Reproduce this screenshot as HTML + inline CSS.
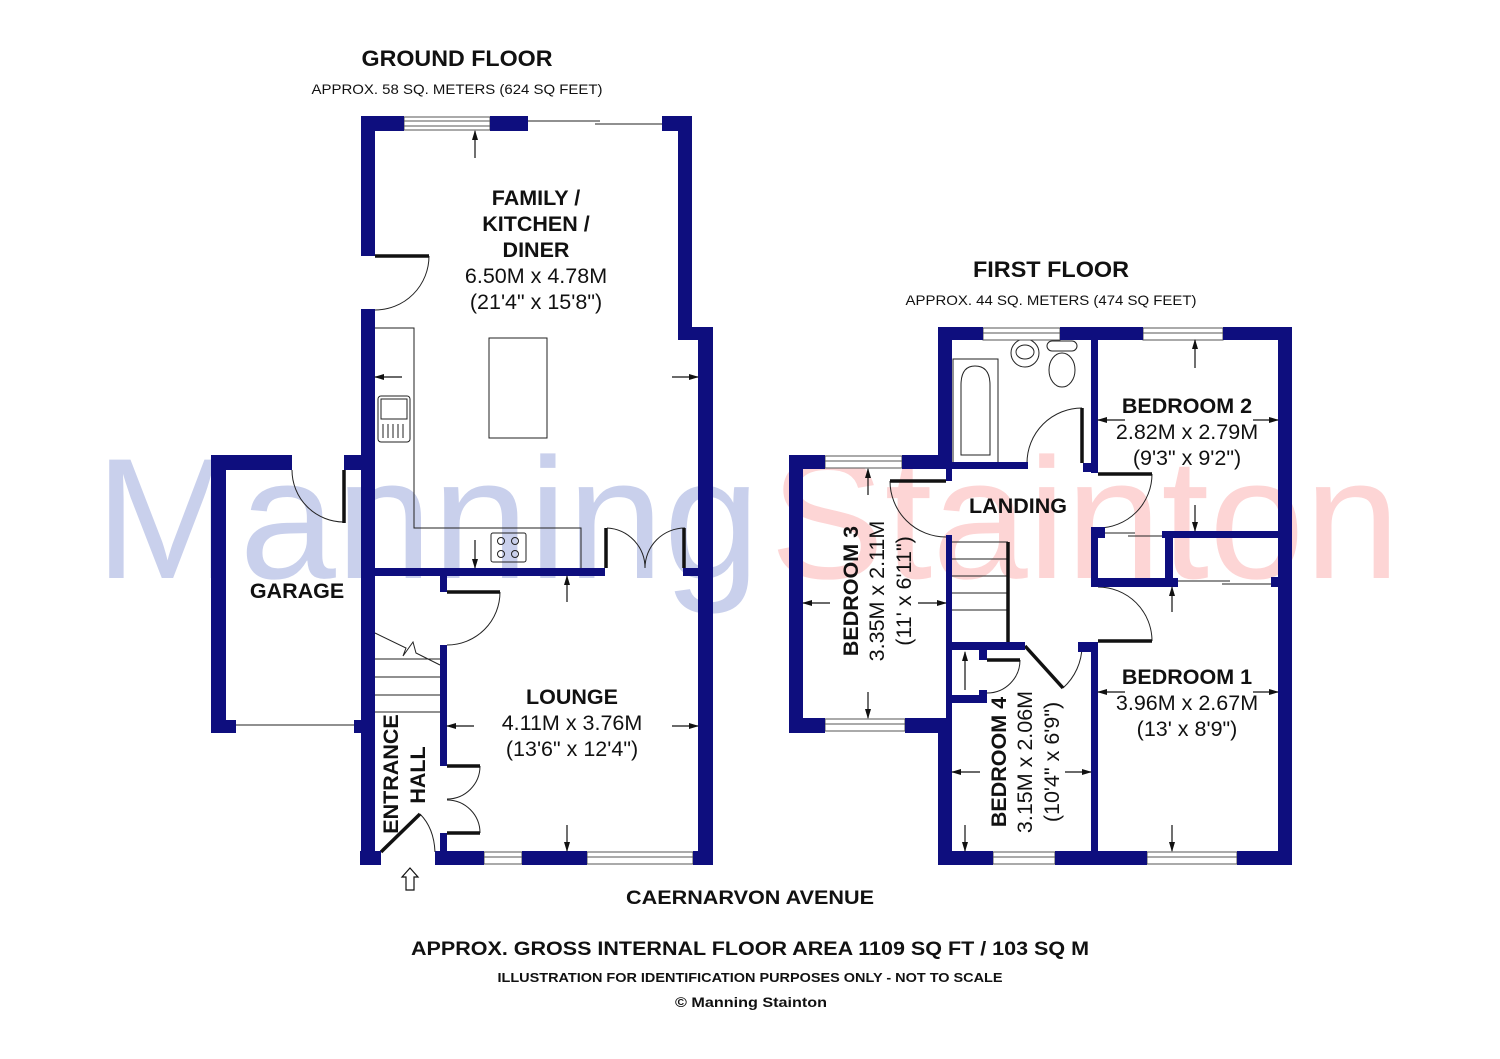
<!DOCTYPE html>
<html><head><meta charset="utf-8"><style>
html,body{margin:0;padding:0;background:#fff;}
svg{display:block;}
text{font-family:"Liberation Sans",Arial,sans-serif;fill:#111;}
.b{font-weight:bold;}
</style></head><body>
<svg width="1500" height="1059" viewBox="0 0 1500 1059" xmlns="http://www.w3.org/2000/svg">
<defs>
<marker id="ah" markerWidth="10" markerHeight="8" refX="9" refY="4" orient="auto" markerUnits="userSpaceOnUse">
<path d="M0,1 L10,4 L0,7 z" fill="#111"/>
</marker>
</defs>
<rect width="1500" height="1059" fill="#fff"/>
<!-- watermark -->
<text x="95" y="578" font-size="172" style="fill:#c9d0ec" textLength="665" lengthAdjust="spacingAndGlyphs">Manning</text>
<text x="770" y="578" font-size="172" style="fill:#fdd5d5" textLength="630" lengthAdjust="spacingAndGlyphs">Stainton</text>

<!-- headings -->
<text class="b" x="457" y="66" font-size="22" text-anchor="middle" textLength="191" lengthAdjust="spacingAndGlyphs">GROUND FLOOR</text>
<text x="457" y="94" font-size="14" text-anchor="middle" textLength="291" lengthAdjust="spacingAndGlyphs">APPROX. 58 SQ. METERS (624 SQ FEET)</text>
<text class="b" x="1051" y="277" font-size="22" text-anchor="middle" textLength="156" lengthAdjust="spacingAndGlyphs">FIRST FLOOR</text>
<text x="1051" y="305" font-size="14" text-anchor="middle" textLength="291" lengthAdjust="spacingAndGlyphs">APPROX. 44 SQ. METERS (474 SQ FEET)</text>
<text class="b" x="750" y="904" font-size="19" text-anchor="middle" textLength="248" lengthAdjust="spacingAndGlyphs">CAERNARVON AVENUE</text>
<text class="b" x="750" y="955" font-size="19" text-anchor="middle" textLength="678" lengthAdjust="spacingAndGlyphs">APPROX. GROSS INTERNAL FLOOR AREA 1109 SQ FT / 103 SQ M</text>
<text class="b" x="750" y="982" font-size="13" text-anchor="middle" textLength="505" lengthAdjust="spacingAndGlyphs">ILLUSTRATION FOR IDENTIFICATION PURPOSES ONLY - NOT TO SCALE</text>
<text class="b" x="751" y="1007" font-size="14" text-anchor="middle" textLength="152" lengthAdjust="spacingAndGlyphs">© Manning Stainton</text>

<g fill="none" stroke="#222" stroke-width="1">
<polyline points="375,328 414,328 414,528 581,528 581,568"/>
<rect x="489" y="338" width="58" height="100"/>
<rect x="378" y="396" width="32" height="46" rx="3"/>
<rect x="381" y="399" width="26" height="20"/>
<line x1="383" y1="424" x2="383" y2="438"/><line x1="388" y1="424" x2="388" y2="438"/><line x1="393" y1="424" x2="393" y2="438"/><line x1="398" y1="424" x2="398" y2="438"/><line x1="403" y1="424" x2="403" y2="438"/>
<rect x="491" y="533" width="35" height="29" rx="2"/>
<circle cx="501" cy="541" r="3.5"/><circle cx="515" cy="541" r="3.5"/><circle cx="501" cy="554" r="3.5"/><circle cx="515" cy="554" r="3.5"/>
<path d="M429,256 A54,54 0 0 1 375,310"/>
<path d="M292,470 A52,52 0 0 0 344,522"/>
<path d="M607,528 A40,40 0 0 1 645,568"/>
<path d="M685,528 A40,40 0 0 0 645,568"/>
<path d="M500,592 A53,53 0 0 1 447,645"/>
<path d="M480,766 A33,33 0 0 1 447,799"/>
<path d="M480,833 A33,33 0 0 0 447,800"/>
<path d="M420,814 Q434,828 435,852"/>
<line x1="236" y1="725" x2="354" y2="725"/>
<line x1="528" y1="121" x2="600" y2="121"/><line x1="595" y1="124" x2="662" y2="124"/>
<line x1="375" y1="659" x2="440" y2="659"/><line x1="375" y1="677" x2="440" y2="677"/><line x1="375" y1="695" x2="440" y2="695"/><line x1="375" y1="712" x2="440" y2="712"/>
<polyline points="375,633 406,648 403,656 413,642 416,653 440,665"/>
<path d="M890,481 A56,56 0 0 0 946,537"/>
<path d="M1082,408 A55,55 0 0 0 1027,463"/>
<path d="M1152,474 A54,54 0 0 1 1098,528"/>
<path d="M1098,587 A54,54 0 0 1 1152,641"/>
<path d="M1063,688 A57,57 0 0 0 1082,646"/>
<path d="M1020,660 A33,33 0 0 1 987,693"/>
<line x1="952" y1="542" x2="1008" y2="542"/><line x1="952" y1="559" x2="1008" y2="559"/><line x1="952" y1="576" x2="1008" y2="576"/><line x1="952" y1="593" x2="1008" y2="593"/><line x1="952" y1="610" x2="1008" y2="610"/>
<rect x="953" y="359" width="45" height="104"/>
<path d="M961,455 L961,385 Q961,366 975,366 Q990,366 990,385 L990,455 Z"/>
<circle cx="1025" cy="353" r="14"/><ellipse cx="1025" cy="352" rx="9" ry="7"/>
<rect x="1047" y="341" width="30" height="10" rx="5"/>
<ellipse cx="1062" cy="370" rx="13" ry="17"/>
<line x1="1105" y1="533" x2="1135" y2="533"/><line x1="1128" y1="536" x2="1162" y2="536"/>
<line x1="1178" y1="581" x2="1230" y2="581"/><line x1="1222" y1="584" x2="1271" y2="584"/>
</g>
<g stroke="#111" stroke-width="3.5">
<line x1="375" y1="256" x2="429" y2="256"/>
<line x1="344" y1="470" x2="344" y2="523"/>
<line x1="447" y1="592" x2="500" y2="592"/>
<line x1="447" y1="766" x2="480" y2="766"/>
<line x1="447" y1="833" x2="480" y2="833"/>
<line x1="381" y1="852" x2="420" y2="814"/>
<line x1="606" y1="528" x2="606" y2="568"/>
<line x1="684" y1="528" x2="684" y2="568"/>
<line x1="890" y1="481" x2="946" y2="481"/>
<line x1="1082" y1="408" x2="1082" y2="463"/>
<line x1="1098" y1="474" x2="1152" y2="474"/>
<line x1="1098" y1="641" x2="1152" y2="641"/>
<line x1="1025" y1="646" x2="1063" y2="688"/>
<line x1="987" y1="660" x2="1020" y2="660"/>
<line x1="1008" y1="542" x2="1008" y2="642"/>
</g>

<g fill="#fff" stroke="#555" stroke-width="1">
<rect x="404" y="117" width="86" height="13"/><line x1="404" y1="121" x2="490" y2="121"/><line x1="404" y1="126" x2="490" y2="126"/>
<rect x="484" y="852" width="38" height="12"/><line x1="484" y1="857" x2="522" y2="857"/>
<rect x="587" y="852" width="106" height="12"/><line x1="587" y1="857" x2="693" y2="857"/>
<rect x="983" y="328" width="77" height="12"/><line x1="983" y1="333" x2="1060" y2="333"/>
<rect x="1143" y="328" width="80" height="12"/><line x1="1143" y1="333" x2="1223" y2="333"/>
<rect x="825" y="456" width="77" height="12"/><line x1="825" y1="461" x2="902" y2="461"/>
<rect x="825" y="719" width="80" height="12"/><line x1="825" y1="724" x2="905" y2="724"/>
<rect x="993" y="852" width="62" height="12"/><line x1="993" y1="857" x2="1055" y2="857"/>
<rect x="1147" y="852" width="90" height="12"/><line x1="1147" y1="857" x2="1237" y2="857"/>
</g>

<g fill="#0e0e7e">
<rect x="361" y="116" width="43" height="15"/>
<rect x="490" y="116" width="38" height="15"/>
<rect x="662" y="116" width="30" height="15"/>
<rect x="678" y="116" width="14" height="224"/>
<rect x="678" y="327" width="35" height="13"/>
<rect x="698" y="327" width="15" height="538"/>
<rect x="361" y="116" width="14" height="140"/>
<rect x="361" y="309" width="14" height="556"/>
<rect x="211" y="455" width="81" height="15"/>
<rect x="344" y="455" width="24" height="15"/>
<rect x="211" y="455" width="15" height="278"/>
<rect x="211" y="720" width="25" height="13"/>
<rect x="354" y="720" width="14" height="13"/>
<rect x="375" y="568" width="230" height="8"/>
<rect x="683" y="568" width="15" height="8"/>
<rect x="440" y="576" width="7" height="16"/>
<rect x="440" y="645" width="7" height="121"/>
<rect x="440" y="833" width="7" height="32"/>
<rect x="435" y="851" width="49" height="14"/>
<rect x="522" y="851" width="65" height="14"/>
<rect x="693" y="851" width="20" height="14"/>
<rect x="360" y="851" width="21" height="14"/>
<rect x="938" y="327" width="45" height="13"/>
<rect x="1060" y="327" width="83" height="13"/>
<rect x="1223" y="327" width="69" height="13"/>
<rect x="1278" y="327" width="14" height="538"/>
<rect x="938" y="851" width="55" height="14"/>
<rect x="1055" y="851" width="92" height="14"/>
<rect x="1237" y="851" width="55" height="14"/>
<rect x="938" y="327" width="14" height="141"/>
<rect x="938" y="462" width="90" height="7"/>
<rect x="789" y="455" width="36" height="14"/>
<rect x="902" y="455" width="50" height="14"/>
<rect x="946" y="455" width="6" height="26"/>
<rect x="789" y="455" width="14" height="278"/>
<rect x="789" y="718" width="36" height="15"/>
<rect x="905" y="718" width="47" height="15"/>
<rect x="946" y="535" width="6" height="198"/>
<rect x="938" y="718" width="14" height="147"/>
<rect x="952" y="642" width="73" height="8"/>
<rect x="979" y="650" width="8" height="10"/>
<rect x="952" y="695" width="35" height="8"/>
<rect x="979" y="690" width="8" height="13"/>
<rect x="1078" y="642" width="20" height="10"/>
<rect x="1091" y="642" width="7" height="223"/>
<rect x="1091" y="340" width="7" height="133"/>
<rect x="1083" y="463" width="15" height="9"/>
<rect x="1091" y="527" width="7" height="60"/>
<rect x="1091" y="527" width="14" height="11"/>
<rect x="1162" y="531" width="116" height="7"/>
<rect x="1165" y="531" width="8" height="56"/>
<rect x="1091" y="578" width="87" height="9"/>
<rect x="1271" y="577" width="7" height="10"/>
</g>

<g stroke="#111" stroke-width="1.2" marker-end="url(#ah)">
<line x1="475" y1="158" x2="475" y2="131"/>
<line x1="402" y1="377" x2="375" y2="377"/>
<line x1="672" y1="377" x2="698" y2="377"/>
<line x1="475" y1="540" x2="475" y2="568"/>
<line x1="567" y1="602" x2="567" y2="576"/>
<line x1="474" y1="726" x2="447" y2="726"/>
<line x1="672" y1="726" x2="698" y2="726"/>
<line x1="567" y1="825" x2="567" y2="851"/>
<line x1="868" y1="495" x2="868" y2="469"/>
<line x1="868" y1="692" x2="868" y2="718"/>
<line x1="830" y1="603" x2="803" y2="603"/>
<line x1="918" y1="603" x2="946" y2="603"/>
<line x1="1195" y1="368" x2="1195" y2="340"/>
<line x1="1195" y1="505" x2="1195" y2="531"/>
<line x1="1125" y1="420" x2="1098" y2="420"/>
<line x1="1253" y1="420" x2="1278" y2="420"/>
<line x1="1172" y1="612" x2="1172" y2="587"/>
<line x1="1172" y1="825" x2="1172" y2="851"/>
<line x1="1125" y1="692" x2="1098" y2="692"/>
<line x1="1253" y1="692" x2="1278" y2="692"/>
<line x1="980" y1="772" x2="952" y2="772"/>
<line x1="1065" y1="772" x2="1091" y2="772"/>
<line x1="965" y1="825" x2="965" y2="851"/>
<line x1="965" y1="690" x2="965" y2="652"/>
</g>
<path d="M410,868 L402,877 L406,877 L406,890 L414,890 L414,877 L418,877 Z" fill="#fff" stroke="#111" stroke-width="1.2"/>

<g text-anchor="middle">
<text class="b" x="536" y="205" font-size="21.5">FAMILY /</text>
<text class="b" x="536" y="231" font-size="21.5">KITCHEN /</text>
<text class="b" x="536" y="257" font-size="21.5">DINER</text>
<text x="536" y="283" font-size="21.5">6.50M x 4.78M</text>
<text x="536" y="309" font-size="21.5">(21'4" x 15'8")</text>
<text class="b" x="297" y="598" font-size="21.5">GARAGE</text>
<text class="b" x="572" y="704" font-size="21.5">LOUNGE</text>
<text x="572" y="730" font-size="21.5">4.11M x 3.76M</text>
<text x="572" y="756" font-size="21.5">(13'6" x 12'4")</text>
<text class="b" x="1018" y="513" font-size="21.5">LANDING</text>
<text class="b" x="1187" y="413" font-size="21.5">BEDROOM 2</text>
<text x="1187" y="439" font-size="21.5">2.82M x 2.79M</text>
<text x="1187" y="465" font-size="21.5">(9'3" x 9'2")</text>
<text class="b" x="1187" y="684" font-size="21.5">BEDROOM 1</text>
<text x="1187" y="710" font-size="21.5">3.96M x 2.67M</text>
<text x="1187" y="736" font-size="21.5">(13' x 8'9")</text>
<g transform="translate(391,774) rotate(-90)"><text class="b" x="0" y="7" font-size="21.5">ENTRANCE</text></g>
<g transform="translate(418,775) rotate(-90)"><text class="b" x="0" y="7" font-size="21.5">HALL</text></g>
<g transform="translate(851,591) rotate(-90)"><text class="b" x="0" y="7" font-size="21.5">BEDROOM 3</text></g>
<g transform="translate(877,591) rotate(-90)"><text x="0" y="7" font-size="21.5">3.35M x 2.11M</text></g>
<g transform="translate(904,591) rotate(-90)"><text x="0" y="7" font-size="21.5">(11' x 6'11")</text></g>
<g transform="translate(999,762) rotate(-90)"><text class="b" x="0" y="7" font-size="21.5">BEDROOM 4</text></g>
<g transform="translate(1025,762) rotate(-90)"><text x="0" y="7" font-size="21.5">3.15M x 2.06M</text></g>
<g transform="translate(1052,762) rotate(-90)"><text x="0" y="7" font-size="21.5">(10'4" x 6'9")</text></g>
</g>
</svg>
</body></html>
